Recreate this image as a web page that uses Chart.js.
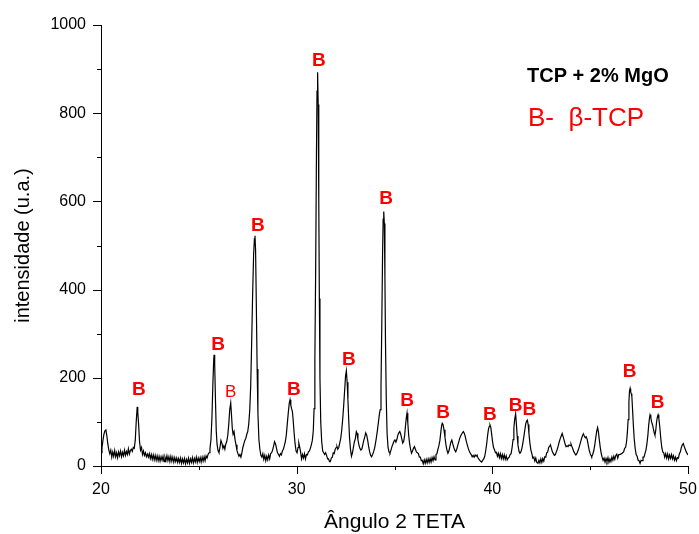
<!DOCTYPE html>
<html>
<head>
<meta charset="utf-8">
<title>TCP + 2% MgO</title>
<script src="https://cdn.jsdelivr.net/npm/chart.js@4.4.1/dist/chart.umd.min.js"></script>
<style>
    html, body { margin: 0; padding: 0; background: #fff; }
    #wrap { width: 699px; height: 534px; }
</style>
</head>
<body>
<div id="wrap"><canvas id="xrdChart" width="699" height="534"></canvas></div>
<script>
// XRD scan – TCP + 2% MgO, beta-TCP reflections marked with "B"

// 2-theta positions (deg), one row of ten per line
const twoTheta = [
    20.00, 20.05, 20.10, 20.15, 20.20, 20.25, 20.30, 20.35, 20.40, 20.45,
    20.50, 20.55, 20.60, 20.65, 20.70, 20.75, 20.80, 20.85, 20.90, 20.95,
    21.00, 21.05, 21.10, 21.15, 21.20, 21.25, 21.30, 21.35, 21.40, 21.45,
    21.50, 21.55, 21.60, 21.65, 21.70, 21.75, 21.80, 21.85, 21.88, 21.92,
    21.97, 22.02, 22.07, 22.12, 22.17, 22.22, 22.27, 22.32, 22.37, 22.42,
    22.47, 22.52, 22.57, 22.62, 22.67, 22.72, 22.77, 22.82, 22.87, 22.92,
    22.97, 23.02, 23.07, 23.12, 23.17, 23.22, 23.27, 23.32, 23.37, 23.42,
    23.47, 23.52, 23.57, 23.62, 23.67, 23.72, 23.77, 23.82, 23.87, 23.92,
    23.97, 24.02, 24.07, 24.12, 24.17, 24.22, 24.27, 24.32, 24.37, 24.42,
    24.47, 24.52, 24.57, 24.62, 24.67, 24.72, 24.77, 24.82, 24.87, 24.92,
    24.97, 25.02, 25.07, 25.12, 25.17, 25.22, 25.27, 25.32, 25.37, 25.42,
    25.47, 25.52, 25.57, 25.62, 25.67, 25.72, 25.76, 25.78, 25.81, 25.85,
    25.89, 25.93, 25.98, 26.03, 26.08, 26.13, 26.18, 26.23, 26.28, 26.33,
    26.38, 26.43, 26.48, 26.53, 26.58, 26.63, 26.67, 26.71, 26.75, 26.80,
    26.85, 26.90, 26.95, 27.00, 27.05, 27.10, 27.15, 27.20, 27.25, 27.30,
    27.35, 27.40, 27.45, 27.50, 27.55, 27.60, 27.65, 27.70, 27.75, 27.80,
    27.84, 27.87, 27.90, 27.94, 27.98, 28.02, 28.07, 28.12, 28.17, 28.22,
    28.27, 28.32, 28.37, 28.42, 28.47, 28.52, 28.57, 28.62, 28.67, 28.72,
    28.77, 28.82, 28.87, 28.92, 28.97, 29.02, 29.07, 29.12, 29.17, 29.22,
    29.27, 29.32, 29.37, 29.42, 29.47, 29.52, 29.57, 29.62, 29.66, 29.70,
    29.74, 29.78, 29.82, 29.87, 29.92, 29.97, 30.02, 30.07, 30.11, 30.15,
    30.20, 30.25, 30.30, 30.35, 30.40, 30.45, 30.50, 30.55, 30.60, 30.65,
    30.70, 30.75, 30.80, 30.85, 30.89, 30.93, 30.97, 31.01, 31.04, 31.07,
    31.10, 31.13, 31.16, 31.19, 31.23, 31.28, 31.33, 31.38, 31.43, 31.48,
    31.53, 31.58, 31.63, 31.68, 31.72, 31.77, 31.82, 31.87, 31.92, 31.97,
    32.02, 32.06, 32.10, 32.15, 32.20, 32.25, 32.30, 32.35, 32.40, 32.45,
    32.50, 32.54, 32.58, 32.62, 32.66, 32.70, 32.75, 32.80, 32.85, 32.90,
    32.95, 33.00, 33.05, 33.09, 33.13, 33.18, 33.23, 33.28, 33.33, 33.38,
    33.43, 33.48, 33.53, 33.58, 33.63, 33.68, 33.73, 33.78, 33.83, 33.88,
    33.93, 33.98, 34.03, 34.08, 34.13, 34.18, 34.23, 34.27, 34.31, 34.35,
    34.39, 34.42, 34.45, 34.48, 34.51, 34.54, 34.58, 34.62, 34.67, 34.72,
    34.77, 34.82, 34.87, 34.92, 34.97, 35.02, 35.07, 35.12, 35.17, 35.22,
    35.27, 35.32, 35.37, 35.42, 35.47, 35.52, 35.56, 35.60, 35.64, 35.68,
    35.72, 35.77, 35.82, 35.87, 35.92, 35.97, 36.02, 36.07, 36.12, 36.17,
    36.22, 36.27, 36.32, 36.37, 36.42, 36.47, 36.52, 36.57, 36.62, 36.67,
    36.72, 36.77, 36.82, 36.87, 36.92, 36.97, 37.02, 37.07, 37.12, 37.17,
    37.22, 37.27, 37.32, 37.37, 37.41, 37.44, 37.48, 37.53, 37.58, 37.63,
    37.68, 37.73, 37.78, 37.83, 37.88, 37.93, 37.98, 38.03, 38.08, 38.13,
    38.18, 38.23, 38.28, 38.33, 38.38, 38.43, 38.48, 38.52, 38.57, 38.62,
    38.67, 38.72, 38.77, 38.82, 38.87, 38.92, 38.97, 39.02, 39.07, 39.12,
    39.17, 39.22, 39.27, 39.32, 39.37, 39.42, 39.46, 39.51, 39.56, 39.61,
    39.66, 39.71, 39.76, 39.81, 39.85, 39.88, 39.92, 39.96, 40.01, 40.06,
    40.11, 40.16, 40.21, 40.26, 40.31, 40.36, 40.41, 40.46, 40.51, 40.56,
    40.61, 40.66, 40.71, 40.76, 40.81, 40.86, 40.91, 40.96, 41.01, 41.06,
    41.10, 41.14, 41.19, 41.23, 41.27, 41.31, 41.36, 41.41, 41.46, 41.51,
    41.56, 41.61, 41.66, 41.71, 41.75, 41.79, 41.83, 41.87, 41.92, 41.97,
    42.02, 42.07, 42.12, 42.17, 42.22, 42.27, 42.33, 42.38, 42.43, 42.48,
    42.53, 42.58, 42.63, 42.68, 42.73, 42.78, 42.83, 42.88, 42.93, 42.97,
    43.02, 43.07, 43.12, 43.17, 43.22, 43.27, 43.32, 43.37, 43.42, 43.47,
    43.52, 43.57, 43.62, 43.67, 43.72, 43.77, 43.82, 43.87, 43.92, 43.97,
    44.02, 44.07, 44.12, 44.17, 44.22, 44.27, 44.32, 44.37, 44.42, 44.47,
    44.52, 44.57, 44.62, 44.65, 44.70, 44.75, 44.80, 44.85, 44.90, 44.95,
    45.00, 45.05, 45.08, 45.13, 45.18, 45.23, 45.28, 45.33, 45.38, 45.42,
    45.46, 45.51, 45.56, 45.61, 45.66, 45.71, 45.76, 45.81, 45.86, 45.91,
    45.96, 46.01, 46.06, 46.11, 46.16, 46.21, 46.26, 46.31, 46.36, 46.41,
    46.46, 46.51, 46.56, 46.61, 46.66, 46.71, 46.76, 46.81, 46.86, 46.90,
    46.94, 46.98, 47.01, 47.04, 47.07, 47.10, 47.13, 47.17, 47.21, 47.25,
    47.30, 47.35, 47.40, 47.45, 47.50, 47.55, 47.60, 47.65, 47.70, 47.75,
    47.80, 47.85, 47.90, 47.95, 47.99, 48.03, 48.06, 48.10, 48.14, 48.19,
    48.23, 48.27, 48.31, 48.35, 48.39, 48.43, 48.47, 48.51, 48.56, 48.61,
    48.66, 48.71, 48.76, 48.81, 48.86, 48.91, 48.96, 49.01, 49.06, 49.11,
    49.16, 49.21, 49.26, 49.31, 49.36, 49.41, 49.46, 49.51, 49.56, 49.61,
    49.66, 49.71, 49.76, 49.81, 49.86, 49.91, 49.96, 50.00
];

// counts (u.a.), same rows as twoTheta
const intensity = [
    30, 42, 58, 72, 80, 82, 68, 50, 36, 28,
    36, 20, 32, 22, 35, 21, 30, 19, 32, 23,
    34, 21, 31, 23, 36, 24, 33, 26, 39, 27,
    35, 38, 33, 42, 40, 58, 100, 134, 122, 96,
    55, 36, 42, 26, 34, 24, 30, 21, 27, 20,
    28, 17, 26, 15, 25, 14, 24, 13, 23, 12,
    22, 11, 21, 13, 22, 10, 20, 12, 23, 12,
    21, 10, 22, 11, 20, 9, 19, 10, 18, 8,
    17, 8, 18, 6, 16, 7, 17, 5, 15, 7,
    18, 6, 16, 8, 19, 7, 17, 9, 20, 8,
    18, 10, 19, 9, 20, 11, 21, 12, 23, 18,
    26, 30, 40, 60, 110, 190, 240, 252, 230, 150,
    80, 50, 35, 30, 42, 58, 52, 40, 46, 38,
    50, 56, 70, 95, 128, 143, 115, 85, 72, 78,
    60, 48, 35, 28, 22, 26, 20, 30, 42, 50,
    58, 62, 72, 78, 95, 125, 180, 280, 390, 480,
    515, 522, 490, 360, 220, 120, 60, 38, 24, 20,
    28, 15, 24, 12, 22, 14, 25, 16, 28, 30,
    36, 45, 55, 50, 40, 30, 26, 22, 28, 25,
    34, 38, 46, 55, 70, 95, 120, 142, 150, 138,
    130, 124, 105, 75, 50, 34, 30, 42, 52, 44,
    32, 16, 26, 18, 28, 16, 26, 25, 32, 34,
    40, 48, 58, 80, 130, 240, 440, 700, 850, 893,
    820, 600, 380, 200, 100, 55, 34, 30, 26, 30,
    24, 16, 16, 10, 10, 18, 20, 30, 28, 38,
    42, 44, 38, 42, 52, 62, 80, 105, 135, 170,
    205, 216, 190, 150, 105, 65, 38, 22, 30, 42,
    55, 62, 78, 74, 60, 48, 40, 36, 38, 48,
    58, 66, 75, 70, 58, 44, 32, 24, 21, 26,
    32, 40, 52, 66, 82, 100, 118, 128, 180, 320,
    480, 560, 577, 550, 430, 280, 150, 75, 42, 32,
    29, 36, 44, 50, 56, 59, 54, 60, 70, 75,
    78, 72, 62, 52, 56, 70, 90, 108, 120, 98,
    72, 52, 38, 29, 34, 40, 44, 38, 32, 30,
    28, 20, 20, 12, 13, 5, 14, 6, 15, 7,
    16, 8, 17, 9, 19, 12, 21, 14, 26, 28,
    38, 46, 58, 78, 92, 97, 94, 82, 65, 48,
    36, 29, 34, 44, 54, 59, 50, 42, 36, 32,
    38, 46, 54, 62, 68, 72, 76, 78, 74, 66,
    56, 48, 40, 34, 29, 26, 21, 24, 20, 25,
    22, 25, 18, 15, 12, 10, 9, 13, 16, 22,
    34, 50, 70, 85, 90, 93, 88, 74, 56, 42,
    37, 30, 31, 22, 29, 19, 28, 17, 26, 16,
    25, 15, 23, 14, 18, 20, 26, 28, 42, 60,
    85, 105, 118, 95, 68, 48, 34, 29, 32, 40,
    52, 66, 82, 96, 102, 104, 94, 74, 52, 36,
    28, 18, 20, 11, 18, 8, 6, 13, 7, 16,
    8, 17, 11, 21, 20, 30, 32, 42, 45, 48,
    40, 32, 28, 24, 26, 32, 38, 46, 55, 62,
    68, 74, 66, 58, 50, 44, 46, 44, 48, 46,
    50, 44, 38, 32, 28, 25, 28, 34, 40, 48,
    56, 64, 70, 73, 68, 64, 66, 60, 48, 36,
    28, 23, 21, 26, 34, 46, 62, 78, 87, 78,
    62, 44, 30, 20, 13, 18, 9, 17, 10, 19,
    8, 16, 10, 20, 13, 22, 15, 24, 27, 18,
    26, 26, 27, 28, 30, 32, 40, 42, 55, 75,
    105, 145, 170, 176, 168, 164, 158, 125, 90, 62,
    40, 26, 22, 13, 12, 6, 13, 12, 20, 20,
    28, 36, 50, 70, 92, 108, 116, 110, 100, 93,
    84, 76, 70, 80, 98, 110, 116, 108, 88, 62,
    42, 32, 30, 20, 28, 18, 27, 16, 25, 17,
    26, 16, 23, 13, 20, 12, 19, 18, 28, 32,
    42, 48, 51, 44, 38, 32, 28, 25
];

// "B" markers: anchor in data units (2-theta, counts)
const peakLabelTheta = [21.94, 25.98, 26.63, 28.02, 29.86, 31.14, 32.67, 34.57, 35.64, 37.49, 39.88, 41.19, 41.89, 47.02, 48.45];
const peakLabelCount = [172, 275, 166, 545, 172, 918, 241, 605, 147, 120, 117, 137, 127, 213, 143];

const xTicks = [20, 30, 40, 50];
const yTicks = [0, 200, 400, 600, 800, 1000];

const sampleTitle = 'TCP + 2% MgO';
const phaseKey = 'B-  \u03B2-TCP';

const FONT = '"Liberation Sans", Arial, Helvetica, sans-serif';

// tick marks: long at labelled values, short in between, pointing outward
const tickMarks = {
    id: 'tickMarks',
    afterDraw(chart) {
        const { ctx, chartArea } = chart;
        const xs = chart.scales.x, ys = chart.scales.y;
        ctx.save();
        ctx.strokeStyle = '#000';
        ctx.lineWidth = 1;
        ctx.beginPath();
        xs.ticks.forEach(t => {
            const px = Math.round(xs.getPixelForValue(t.value)) + 0.5;
            const len = xTicks.includes(t.value) ? 8 : 4;
            ctx.moveTo(px, chartArea.bottom);
            ctx.lineTo(px, chartArea.bottom + len);
        });
        ys.ticks.forEach(t => {
            const py = Math.round(ys.getPixelForValue(t.value)) + 0.5;
            const len = yTicks.includes(t.value) ? 8 : 4;
            ctx.moveTo(chartArea.left, py);
            ctx.lineTo(chartArea.left - len, py);
        });
        ctx.stroke();
        ctx.restore();
    }
};

// red "B" over each beta-TCP reflection, plus the two legend lines
const peakLabels = {
    id: 'peakLabels',
    afterDatasetsDraw(chart) {
        const { ctx } = chart;
        const xs = chart.scales.x, ys = chart.scales.y;
        ctx.save();
        ctx.fillStyle = '#ff0000';
        ctx.textAlign = 'center';
        ctx.textBaseline = 'middle';
        peakLabelTheta.forEach((t, i) => {
            // the 26.6 marker is set in a lighter face
            ctx.font = i === 2 ? '17px ' + FONT : 'bold 19px ' + FONT;
            ctx.fillText('B', xs.getPixelForValue(t), ys.getPixelForValue(peakLabelCount[i]));
        });

        ctx.textAlign = 'left';
        ctx.fillStyle = '#000';
        ctx.font = 'bold 20px ' + FONT;
        ctx.fillText(sampleTitle, 527, 76);
        ctx.fillStyle = '#ff0000';
        ctx.font = '26px ' + FONT;
        ctx.fillText(phaseKey, 528, 119);
        ctx.restore();
    }
};

function buildChart() {
    const ctx = document.getElementById('xrdChart').getContext('2d');
    const points = twoTheta.map((t, i) => ({ x: t, y: intensity[i] }));

    new Chart(ctx, {
        type: 'line',
        data: {
            datasets: [{
                data: points,
                borderColor: '#000',
                borderWidth: 1.2,
                pointRadius: 0,
                tension: 0,
                fill: false
            }]
        },
        options: {
            responsive: false,
            animation: false,
            layout: { padding: { left: 0, right: 0, top: 25, bottom: 0 } },
            plugins: { legend: { display: false }, tooltip: { enabled: false } },
            scales: {
                x: {
                    type: 'linear',
                    min: 20,
                    max: 50,
                    grid: { display: false, drawTicks: false },
                    border: { display: true, color: '#000', width: 1 },
                    ticks: {
                        stepSize: 5,
                        padding: 14,
                        color: '#000',
                        font: { family: FONT, size: 16 },
                        maxRotation: 0,
                        autoSkip: false,
                        callback: v => xTicks.includes(v) ? String(v) : ''
                    },
                    title: {
                        display: true,
                        text: 'Ângulo 2 TETA',
                        color: '#000',
                        font: { family: FONT, size: 21, lineHeight: 1 },
                        padding: { top: 0, bottom: 1.5 }
                    },
                    // tick padding would otherwise widen the right margin
                    afterFit: s => { s.height = 68; s.paddingRight = 11; }
                },
                y: {
                    min: 0,
                    max: 1000,
                    grid: { display: false, drawTicks: false },
                    border: { display: true, color: '#000', width: 1 },
                    ticks: {
                        stepSize: 100,
                        padding: 15,
                        color: '#000',
                        font: { family: FONT, size: 16 },
                        autoSkip: false,
                        callback: v => yTicks.includes(v) ? String(v) : ''
                    },
                    title: {
                        display: true,
                        text: 'intensidade (u.a.)',
                        color: '#000',
                        font: { family: FONT, size: 20, lineHeight: 1 },
                        padding: { top: 13, bottom: 0 }
                    },
                    afterFit: s => { s.width = 101; }
                }
            }
        },
        plugins: [tickMarks, peakLabels]
    });
}

window.addEventListener('DOMContentLoaded', buildChart);
</script>
</body>
</html>
